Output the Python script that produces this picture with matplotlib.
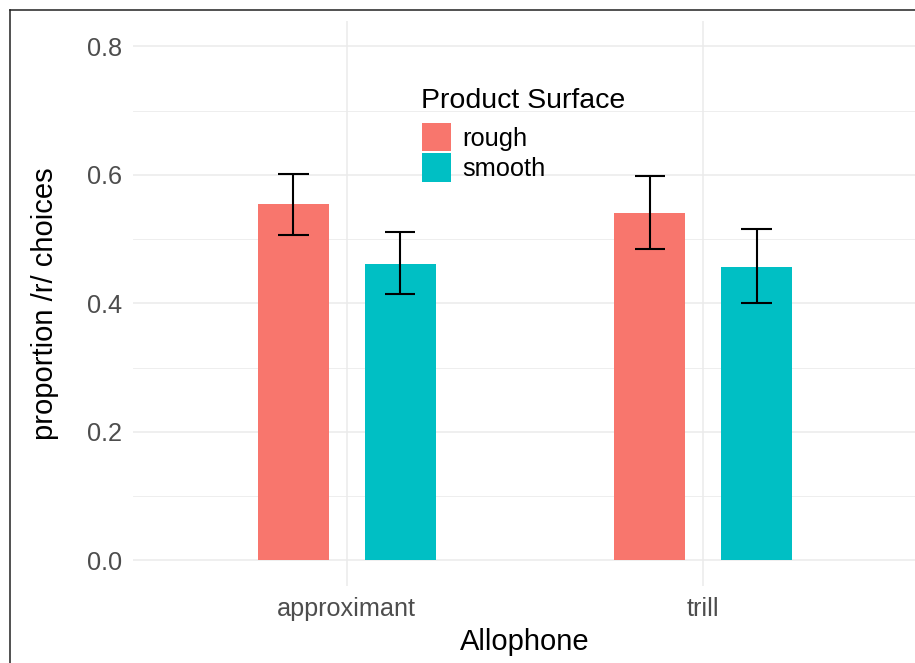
import matplotlib
matplotlib.use("Agg")
import matplotlib.pyplot as plt
from matplotlib.patches import Rectangle
from matplotlib.lines import Line2D
import numpy as np

categories = ["approximant", "trill"]
groups = ["rough", "smooth"]
means_rough = [0.555, 0.541]
means_smooth = [0.462, 0.457]
lo_rough = [0.507, 0.484]
hi_rough = [0.602, 0.599]
lo_smooth = [0.414, 0.401]
hi_smooth = [0.511, 0.516]
yticks = [0.0, 0.2, 0.4, 0.6, 0.8]
ytick_labels = ["0.0", "0.2", "0.4", "0.6", "0.8"]

colors = ["#F8766D", "#00BFC4"]
FONT = "Liberation Sans"
plt.rcParams["font.family"] = [FONT, "DejaVu Sans"]

W, H = 915, 663
fig = plt.figure(figsize=(W / 100, H / 100), dpi=100)
fig.patch.set_facecolor("white")

left, right, top, bottom = 133, 917, 20.7, 586
ax = fig.add_axes([left / W, (H - bottom) / H, (right - left) / W, (bottom - top) / H])
ax.set_facecolor("white")
ax.set_xlim(0.4, 2.6)
ax.set_ylim(-0.04, 0.84)

grid_c = "#EBEBEB"
for v in [0.1, 0.3, 0.5, 0.7]:
    ax.axhline(v, color=grid_c, lw=0.6, zorder=0)
for v in yticks:
    ax.axhline(v, color=grid_c, lw=1.1, zorder=0)
x = np.arange(1, len(categories) + 1)
for xv in x:
    ax.axvline(xv, color=grid_c, lw=1.1, zorder=0)

dodge = 0.15
bw = 0.2
capw = 0.085
elw = 1.5
series = [(means_rough, lo_rough, hi_rough), (means_smooth, lo_smooth, hi_smooth)]
for i, (m, lo, hi) in enumerate(series):
    xs = x + (-dodge if i == 0 else dodge)
    ax.bar(xs, m, width=bw, color=colors[i], zorder=2)
    ax.vlines(xs, lo, hi, color="black", lw=elw, zorder=3)
    ax.hlines(lo, xs - capw / 2, xs + capw / 2, color="black", lw=elw, zorder=3)
    ax.hlines(hi, xs - capw / 2, xs + capw / 2, color="black", lw=elw, zorder=3)

for s in ax.spines.values():
    s.set_visible(False)
ax.set_yticks(yticks)
ax.set_yticklabels(ytick_labels)
ax.set_xticks(x)
ax.set_xticklabels(categories)
ax.tick_params(axis="both", length=0, labelsize=18.2, labelcolor="#4D4D4D")
ax.tick_params(axis="y", pad=8)
ax.tick_params(axis="x", pad=8)
ax.set_xlabel("Allophone", fontsize=21, color="black", labelpad=5)
ax.set_ylabel("proportion /r/ choices", fontsize=21, color="black", labelpad=20)

# legend (drawn in figure pixel coordinates)
def fx(px):
    return px / W
def fy(py):
    return (H - py) / H

fig.text(fx(421), fy(101), "Product Surface", fontsize=20.5, color="black",
         ha="left", va="center")
key_tops = [122.7, 153]
for i, g in enumerate(groups):
    kt = key_tops[i]
    fig.patches.append(Rectangle((fx(422), fy(kt + 28.5)), 29 / W, 28.5 / H,
                                 transform=fig.transFigure, facecolor=colors[i],
                                 edgecolor="none"))
    fig.text(fx(462), fy(kt + 16.5), g, fontsize=18.3, color="black",
             ha="left", va="center")

# partial outer frame (left and top)
fig.add_artist(Line2D([fx(9.5), fx(9.5)], [fy(10), fy(663)], transform=fig.transFigure,
                      color="#222222", lw=1.1))
fig.add_artist(Line2D([fx(9.5), fx(915)], [fy(10), fy(10)], transform=fig.transFigure,
                      color="#222222", lw=1.1))

fig.savefig("out.png", dpi=100, facecolor="white")
